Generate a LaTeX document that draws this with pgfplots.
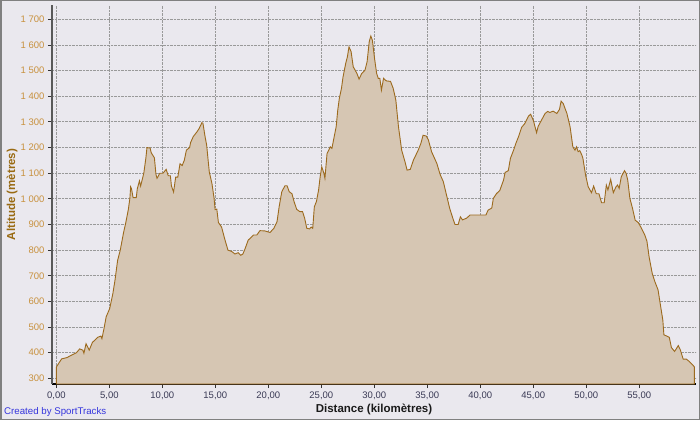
\documentclass[border=0pt]{standalone}
\usepackage{fontspec}
\setmainfont{Liberation Sans}
\usepackage{pgfplots}
\pgfplotsset{compat=1.18}
\usepackage{pgfplotstable}

\definecolor{bgcol}{HTML}{EAE8EE}
\definecolor{framecol}{HTML}{808080}
\definecolor{areafill}{HTML}{D6C6B3}
\definecolor{arealine}{HTML}{9C6A1E}
\definecolor{ytickcol}{HTML}{C8913E}
\definecolor{ylabcol}{HTML}{996A12}
\definecolor{xtickcol}{HTML}{3A3A55}
\definecolor{creditcol}{HTML}{3535DD}

% distance (km), altitude (m)
\pgfplotstableread{
km alt
0.00 344
0.20 357
0.50 376
1.00 381
1.40 390
1.90 400
2.20 415
2.50 410
2.60 398
2.80 435
3.10 410
3.40 440
3.90 460
4.20 465
4.30 455
4.50 495
4.70 540
5.03 572
5.33 630
5.53 682
5.78 760
6.03 800
6.34 868
6.54 905
6.79 958
6.94 1003
7.01 1047
7.09 1040
7.24 1005
7.54 1005
7.64 1040
7.84 1070
7.95 1050
8.25 1100
8.45 1160
8.55 1200
8.85 1198
8.95 1180
9.25 1160
9.40 1095
9.50 1080
9.76 1100
10.06 1100
10.36 1115
10.56 1090
10.76 1090
10.86 1050
11.06 1027
11.26 1085
11.46 1085
11.67 1137
11.87 1130
12.07 1150
12.27 1190
12.57 1200
12.67 1220
12.92 1243
13.28 1262
13.48 1275
13.73 1297
13.83 1295
14.03 1243
14.18 1210
14.43 1105
14.68 1060
14.88 1003
14.98 958
15.14 960
15.29 908
15.59 890
15.89 843
16.19 800
16.54 795
16.85 785
17.15 790
17.40 780
17.60 785
17.80 805
18.10 839
18.61 859
18.91 859
19.21 876
19.66 875
20.16 869
20.52 885
20.82 911
21.02 969
21.27 1028
21.57 1051
21.77 1051
21.97 1028
22.23 1020
22.43 989
22.68 959
22.98 950
23.23 950
23.43 924
23.63 885
23.89 883
24.04 890
24.19 885
24.34 969
24.54 990
24.74 1034
24.89 1086
25.04 1125
25.24 1100
25.34 1080
25.54 1177
25.85 1203
26.00 1197
26.15 1229
26.40 1281
26.55 1346
26.70 1392
26.90 1431
27.05 1476
27.30 1528
27.46 1554
27.61 1593
27.81 1574
28.01 1515
28.36 1489
28.56 1467
28.81 1489
29.12 1502
29.32 1535
29.52 1613
29.67 1635
29.82 1618
30.02 1548
30.22 1489
30.37 1470
30.52 1470
30.67 1424
30.87 1470
31.13 1460
31.53 1458
31.78 1431
32.03 1385
32.28 1281
32.58 1190
32.89 1145
33.09 1112
33.39 1115
33.69 1151
34.14 1190
34.39 1216
34.60 1248
34.90 1245
35.10 1230
35.40 1184
35.90 1138
36.21 1095
36.51 1067
36.81 1015
37.11 963
37.41 924
37.61 900
37.91 900
38.12 930
38.32 918
38.72 925
39.02 937
39.62 937
40.53 937
40.73 956
41.08 964
41.23 1002
41.54 1021
41.84 1033
42.19 1073
42.34 1103
42.64 1110
42.84 1158
43.14 1190
43.35 1216
43.60 1242
43.90 1279
44.20 1294
44.55 1323
44.75 1330
45.01 1305
45.31 1258
45.46 1283
45.81 1310
46.11 1333
46.36 1341
46.56 1337
46.87 1342
47.22 1333
47.47 1349
47.62 1381
47.82 1372
48.17 1333
48.47 1281
48.73 1203
48.93 1190
49.08 1203
49.23 1184
49.38 1188
49.58 1171
49.68 1158
49.93 1093
50.18 1047
50.49 1024
50.69 1050
50.94 1020
51.19 1020
51.44 985
51.69 985
51.89 1054
52.04 1035
52.30 1076
52.55 1024
52.80 1047
52.95 1054
53.10 1041
53.30 1086
53.60 1110
53.75 1100
53.91 1073
54.11 1002
54.36 963
54.61 917
54.91 907
55.21 885
55.51 860
55.72 835
55.92 775
56.22 709
56.47 677
56.77 645
56.92 605
57.22 527
57.32 470
57.58 465
57.83 460
58.03 420
58.33 405
58.68 428
58.88 410
59.14 375
59.44 375
59.74 365
60.09 350
60.19 345
}\profile

\begin{document}
\begin{tikzpicture}
\path[use as bounding box] (0,0) rectangle (700pt,420pt);
\fill[bgcol] (0,0) rectangle (700pt,420pt);
\begin{axis}[
    at={(52pt,36pt)}, anchor=south west,
    scale only axis,
    width=644pt, height=379pt,
    xmin=-0.41, xmax=60.35,
    ymin=278, ymax=1756,
    axis lines*=left,
    x axis line style={black, line width=1.4pt},
    y axis line style={black!65, line width=1.6pt},
    tick align=outside,
    major tick length=4pt,
    tick style={black!80, line width=0.9pt},
    xtick={0,5,...,55},
    ytick={300,400,...,1700},
    grid=major,
    grid style={densely dotted, black!40, line width=0.9pt},
    ticklabel style={font=\fontsize{9.5}{11}\selectfont},
    xticklabel style={text=xtickcol},
    yticklabel style={text=ytickcol},
    x tick label style={/pgf/number format/.cd, fixed, fixed zerofill, precision=2, use comma, assume math mode=true},
    y tick label style={/pgf/number format/.cd, 1000 sep={\ }, assume math mode=true},
    xlabel={Distance (kilomètres)},
    ylabel={Altitude (mètres)},
    xlabel style={at={(axis description cs:0.5,-0.066)}, anchor=center, font=\bfseries\fontsize{11.5}{13}\selectfont, text=black!90},
    ylabel style={at={(axis description cs:-0.0621,0.5)}, anchor=center, font=\bfseries\fontsize{11.5}{13}\selectfont, text=ylabcol},
]
\addplot[draw=arealine, line width=0.9pt, fill=areafill] table[x=km, y=alt] {\profile} \closedcycle;
\end{axis}
\node[anchor=west, text=creditcol, font=\fontsize{9.7}{11}\selectfont, inner sep=0pt] at (4pt,8pt) {Created by SportTracks};
\draw[framecol, line width=1.5pt] (0.75pt,0.75pt) rectangle (699.25pt,419.25pt);
\end{tikzpicture}
\end{document}
